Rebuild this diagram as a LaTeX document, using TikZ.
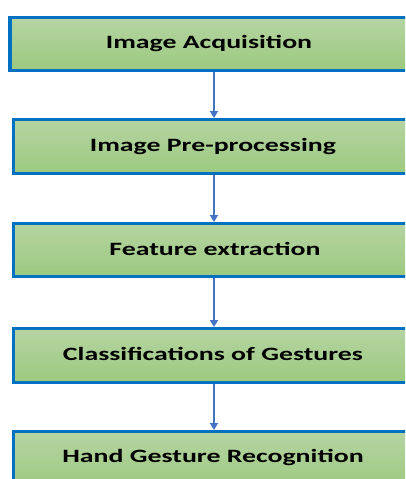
\documentclass[tikz,border=0pt]{standalone}
\usepackage{fontspec}
\setmainfont{Carlito}
\usetikzlibrary{arrows.meta}
\definecolor{boxborder}{HTML}{0070C0}
\definecolor{gtop}{HTML}{B5D4A3}
\definecolor{gbot}{HTML}{9CC97E}
\definecolor{arrowblue}{HTML}{4472C4}
\tikzset{
  stagebox/.style={draw=boxborder, line width=3.5pt, top color=gtop, bottom color=gbot},
  stagetext/.style={inner sep=0pt, font=\fontsize{18.8}{20}\selectfont\bfseries, text=black},
  flow/.style={draw=arrowblue, line width=1.8pt, -{Triangle[length=7pt,width=8pt]}}
}
\newcommand{\stx}[1]{\scalebox{1.48}[1]{#1}}
\begin{document}
\begin{tikzpicture}[x=1pt,y=-1pt]
\useasboundingbox (0,0) rectangle (405,479);
\clip (0,0) rectangle (405,479);
\path[stagebox] (10,17.5) rectangle (425,70.5);
\path[stagebox] (13.5,119.5) rectangle (425,173.5);
\path[stagebox] (13.5,223.5) rectangle (425,276.5);
\path[stagebox] (13.5,328.5) rectangle (425,382.5);
\path[stagebox] (13.5,431.5) rectangle (425,490);
\coordinate (b1) at (214,72);
\coordinate (t2) at (214,118);
\coordinate (b2) at (214,175);
\coordinate (t3) at (214,222);
\coordinate (b3) at (214,278);
\coordinate (t4) at (214,327);
\coordinate (b4) at (214,384);
\coordinate (t5) at (214,430);
\node[stagetext] (n1) at (209,43) {\stx{Image Acquisition}};
\node[stagetext] (n2) at (213,146) {\stx{Image Pre-processing}};
\node[stagetext] (n3) at (215,249) {\stx{Feature extraction}};
\node[stagetext] (n4) at (213,354) {\stx{Classifications of Gestures}};
\node[stagetext] (n5) at (213,457) {\stx{Hand Gesture Recognition}};
\draw[flow] (b1) -- (t2);
\draw[flow] (b2) -- (t3);
\draw[flow] (b3) -- (t4);
\draw[flow] (b4) -- (t5);
\end{tikzpicture}
\end{document}
